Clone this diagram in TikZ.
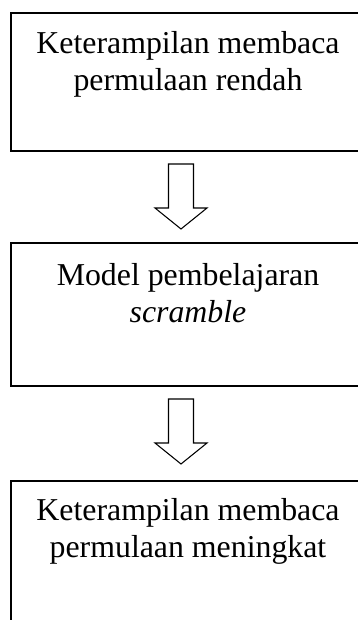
\documentclass[tikz,border=0pt]{standalone}
\usepackage{fontspec}
\setmainfont{Liberation Serif}
\usetikzlibrary{positioning,fit,calc}

\begin{document}
\begin{tikzpicture}[font=\fontsize{12}{14}\selectfont, x=0.377pt, y=0.377pt,
    box/.style={draw, line width=0.75pt, inner sep=0pt},
    txt/.style={align=center, inner sep=0pt, anchor=north},
    hollow/.style={draw, fill=white, line width=0.4pt, line join=miter}]
    \path[use as bounding box, clip] (0,0) rectangle (358,620);
    \node[box, fit={(11,469) (365,607)}] (b1) {};
    \node[box, fit={(11,234) (365,377)}] (b2) {};
    \node[box, fit={(11,-2) (365,139)}] (b3) {};
    \node[txt] (t1) at (188,589) {Keterampilan membaca\\permulaan rendah};
    \node[txt] (t2) at (188,357) {Model pembelajaran\\\textit{scramble}};
    \node[txt] (t3) at (188,122) {Keterampilan membaca\\permulaan meningkat};
    \foreach \b/\a in {b1/a1, b2/a2} {
      \coordinate (\a) at ($(\b.south)+(-7,-12)$);
      \draw[hollow] ($(\a)+(-12.5,0)$) -- ++(25,0) -- ++(0,-44) -- ++(13.5,0)
        -- ++(-26,-21) -- ++(-26,21) -- ++(13.5,0) -- cycle;
    }
  \end{tikzpicture}
\end{document}
